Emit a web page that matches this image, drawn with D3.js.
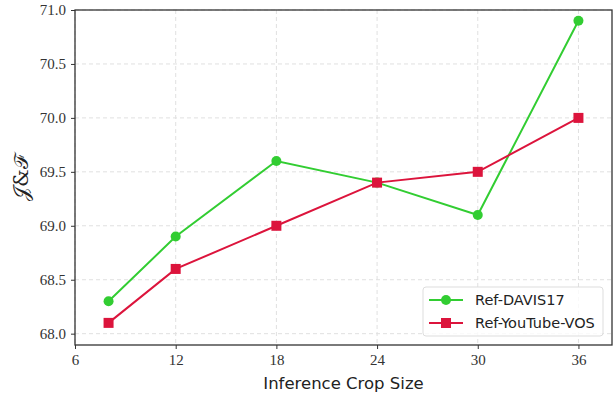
<!DOCTYPE html>
<html>
<head>
<meta charset="utf-8">
<script src="https://cdn.jsdelivr.net/npm/d3@7"></script>
<style>
body { margin: 0; background: #fff; }
.tick text { font-family: "Liberation Serif", "DejaVu Serif", "Times New Roman", serif; }
</style>
</head>
<body>
<svg id="chart" width="613" height="396"></svg>
<script>
let cropSizes = [8, 12, 18, 24, 30, 36];
let davis = [68.3, 68.9, 69.6, 69.4, 69.1, 70.9];
let ytvos = [68.1, 68.6, 69.0, 69.4, 69.5, 70.0];
let xTicks = [6, 12, 18, 24, 30, 36];
let yTicks = [68.0, 68.5, 69.0, 69.5, 70.0, 70.5, 71.0];

let margin = {top: 10, right: 1, bottom: 51, left: 75};
let width = 613 - margin.left - margin.right;
let height = 396 - margin.top - margin.bottom;

let svg = d3.select("#chart");
let g = svg.append("g")
    .attr("transform", `translate(${margin.left}, ${margin.top})`);

let x = d3.scaleLinear().domain([6, 38]).range([0, width]);
let y = d3.scaleLinear().domain([67.895, 71.0]).range([height, 0]);

// grid
g.append("g").selectAll("line").data(xTicks).enter().append("line")
    .attr("x1", d => x(d)).attr("x2", d => x(d))
    .attr("y1", 0).attr("y2", height)
    .attr("stroke", "#e0e0e0").attr("stroke-dasharray", "4,3").attr("stroke-width", 1);
g.append("g").selectAll("line").data(yTicks).enter().append("line")
    .attr("x1", 0).attr("x2", width)
    .attr("y1", d => y(d)).attr("y2", d => y(d))
    .attr("stroke", "#e0e0e0").attr("stroke-dasharray", "4,3").attr("stroke-width", 1);

// axes
let xAxis = g.append("g")
    .attr("transform", `translate(0, ${height})`)
    .call(d3.axisBottom(x).tickValues(xTicks).tickSize(4).tickPadding(5).tickFormat(d3.format("d")));
let yAxis = g.append("g")
    .call(d3.axisLeft(y).tickValues(yTicks).tickSize(4).tickPadding(5).tickFormat(d3.format(".1f")));
[xAxis, yAxis].forEach(a => {
    a.attr("font-family", null).attr("font-size", null);
    a.select(".domain").remove();
    a.selectAll("line").attr("stroke", "#333");
    a.selectAll("text")
        .attr("fill", "#333")
        .style("font-size", "15px");
});

// frame
g.append("rect")
    .attr("width", width).attr("height", height)
    .attr("fill", "none").attr("stroke", "#333").attr("stroke-width", 1.3);

// labels
svg.append("text")
    .attr("transform", `translate(${margin.left + width / 2}, 389)`)
    .style("text-anchor", "middle")
    .style("font-family", "'DejaVu Sans', sans-serif")
    .style("font-size", "16.5px")
    .attr("fill", "#222")
    .text("Inference Crop Size");

svg.append("text")
    .attr("transform", `translate(28, ${margin.top + height / 2}) rotate(-90)`)
    .style("text-anchor", "middle")
    .style("font-family", "'DejaVu Serif', serif")
    .style("font-size", "20px")
    .attr("fill", "#222")
    .text("\u{1D4A5}&\u2131");

let series = [
    {name: "Ref-DAVIS17", values: davis, color: "#32cd32", shape: "circle"},
    {name: "Ref-YouTube-VOS", values: ytvos, color: "#dc143c", shape: "square"}
];

let line = d3.line().x(d => x(d[0])).y(d => y(d[1]));

series.forEach(s => {
    let pts = cropSizes.map((c, i) => [c, s.values[i]]);
    g.append("path").datum(pts)
        .attr("d", line)
        .attr("fill", "none").attr("stroke", s.color).attr("stroke-width", 2);
    if (s.shape == "circle") {
        g.selectAll(null).data(pts).enter().append("circle")
            .attr("cx", d => x(d[0])).attr("cy", d => y(d[1])).attr("r", 5)
            .attr("fill", s.color);
    } else {
        g.selectAll(null).data(pts).enter().append("rect")
            .attr("x", d => x(d[0]) - 5).attr("y", d => y(d[1]) - 5)
            .attr("width", 10).attr("height", 10)
            .attr("fill", s.color);
    }
});

// legend
let lg = g.append("g").attr("transform", `translate(${width - 189}, ${height - 58})`);
lg.append("rect")
    .attr("width", 180).attr("height", 49).attr("rx", 3)
    .attr("fill", "#fff").attr("fill-opacity", 0.8)
    .attr("stroke", "#ddd");
series.forEach((s, i) => {
    let yy = 13 + i * 23;
    lg.append("line").attr("x1", 6).attr("x2", 40).attr("y1", yy).attr("y2", yy)
        .attr("stroke", s.color).attr("stroke-width", 2);
    if (s.shape == "circle") {
        lg.append("circle").attr("cx", 23).attr("cy", yy).attr("r", 5).attr("fill", s.color);
    } else {
        lg.append("rect").attr("x", 18).attr("y", yy - 5).attr("width", 10).attr("height", 10).attr("fill", s.color);
    }
    lg.append("text").attr("x", 52).attr("y", yy + 5)
        .style("font-family", "'DejaVu Sans', sans-serif")
        .style("font-size", "14.5px")
        .attr("fill", "#222")
        .text(s.name);
});
</script>
</body>
</html>
